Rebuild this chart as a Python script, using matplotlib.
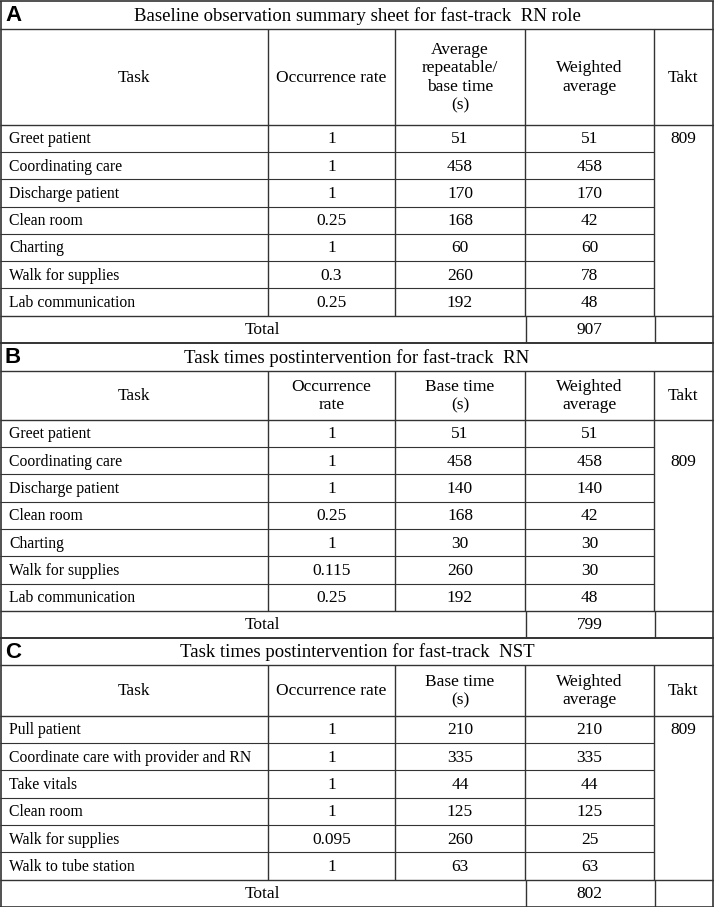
import matplotlib
matplotlib.use("Agg")
from matplotlib import pyplot as plt

# panel A - baseline for fast-track RN
a_tasks = ["Greet patient", "Coordinating care", "Discharge patient", "Clean room",
           "Charting", "Walk for supplies", "Lab communication"]
a_rates = [1, 1, 1, 0.25, 1, 0.3, 0.25]
a_base = [51, 458, 170, 168, 60, 260, 192]
a_weighted = [51, 458, 170, 42, 60, 78, 48]
a_total = 907

# panel B - postintervention fast-track RN
b_tasks = ["Greet patient", "Coordinating care", "Discharge patient", "Clean room",
           "Charting", "Walk for supplies", "Lab communication"]
b_rates = [1, 1, 1, 0.25, 1, 0.115, 0.25]
b_base = [51, 458, 140, 168, 30, 260, 192]
b_weighted = [51, 458, 140, 42, 30, 30, 48]
b_total = 799

# panel C - postintervention fast-track NST
c_tasks = ["Pull patient", "Coordinate care with provider and RN", "Take vitals",
           "Clean room", "Walk for supplies", "Walk to tube station"]
c_rates = [1, 1, 1, 1, 0.095, 1]
c_base = [210, 335, 44, 125, 260, 63]
c_weighted = [210, 335, 44, 125, 25, 63]
c_total = 802

takt = 809

W, H = 714, 907
fig = plt.figure(figsize=(W / 100, H / 100), dpi=100)
ax = fig.add_axes([0, 0, 1, 1])
ax.set_xlim(0, W)
ax.set_ylim(H, 0)
ax.axis("off")

SERIF = "Liberation Serif"
cols = [0, 268, 395, 525, 654, W - 1]
ROW = 27.3
LC = "#333333"
FS = 12.5      # header / numbers
FS_TASK = 11.3


def hline(y, x0, x1, lw=1.0):
    ax.plot([x0, x1], [y, y], color=LC, lw=lw, solid_capstyle="butt")


def vline(x, y0, y1, lw=1.0):
    ax.plot([x, x], [y0, y1], color=LC, lw=lw, solid_capstyle="butt")


def draw_panel(top, letter, title, headers, header_h, tasks, rates, base, weighted,
               total, takt_row, title_h=28):
    y_head = top + title_h
    y_data = y_head + header_h
    n = len(tasks)
    y_total = y_data + n * ROW
    y_end = y_total + 27

    # title row
    ax.text(5, top + title_h / 2 + 1, letter, fontsize=16, fontweight="bold",
            family="Liberation Sans", ha="left", va="center")
    ax.text(W / 2, top + title_h / 2 + 1, title, fontsize=13.5, family=SERIF,
            ha="center", va="center")

    # grid
    hline(top, 0, W, 1.2)
    hline(y_head, 0, W)
    hline(y_data, 0, W)
    for i in range(1, n):
        hline(y_data + i * ROW, 0, cols[4], 0.8)
    hline(y_total, 0, W)
    hline(y_end, 0, W, 1.2)
    vline(0.8, top, y_end, 1.2)
    vline(W - 0.8, top, y_end, 1.2)
    for x in cols[1:5]:
        vline(x, y_head, y_total)
    vline(cols[3] + 1, y_total, y_end)
    vline(cols[4] + 1, y_total, y_end)

    # header
    for j, lab in enumerate(headers):
        cx = (cols[j] + cols[j + 1]) / 2
        ax.text(cx, y_head + header_h / 2 + 1, lab, fontsize=FS, family=SERIF,
                ha="center", va="center", linespacing=1.2)

    # data rows
    for i in range(n):
        cy = y_data + (i + 0.5) * ROW + 1
        ax.text(9, cy, tasks[i], fontsize=FS_TASK, family=SERIF, ha="left", va="center")
        cells = [f"{rates[i]:g}", str(base[i]), str(weighted[i])]
        for j, s in enumerate(cells):
            cx = (cols[j + 1] + cols[j + 2]) / 2
            ax.text(cx, cy, s, fontsize=FS, family=SERIF, ha="center", va="center")
    ax.text((cols[4] + cols[5]) / 2, y_data + (takt_row + 0.5) * ROW + 1, str(takt),
            fontsize=FS, family=SERIF, ha="center", va="center")

    # total row
    cy = (y_total + y_end) / 2 + 1
    ax.text(cols[3] / 2, cy, "Total", fontsize=FS, family=SERIF, ha="center", va="center")
    ax.text((cols[3] + cols[4]) / 2, cy, str(total), fontsize=FS, family=SERIF,
            ha="center", va="center")
    return y_end


y = draw_panel(0.6, "A", "Baseline observation summary sheet for fast-track  RN role",
               ["Task", "Occurrence rate", "Average\nrepeatable/\nbase time\n(s)",
                "Weighted\naverage", "Takt"], 96,
               a_tasks, a_rates, a_base, a_weighted, a_total, 0)
y = draw_panel(y, "B", "Task times postintervention for fast-track  RN",
               ["Task", "Occurrence\nrate", "Base time\n(s)", "Weighted\naverage", "Takt"], 49,
               b_tasks, b_rates, b_base, b_weighted, b_total, 1)
y = draw_panel(y, "C", "Task times postintervention for fast-track  NST",
               ["Task", "Occurrence rate", "Base time\n(s)", "Weighted\naverage", "Takt"], 51,
               c_tasks, c_rates, c_base, c_weighted, c_total, 0, title_h=27)

fig.savefig("out.png", dpi=100)
